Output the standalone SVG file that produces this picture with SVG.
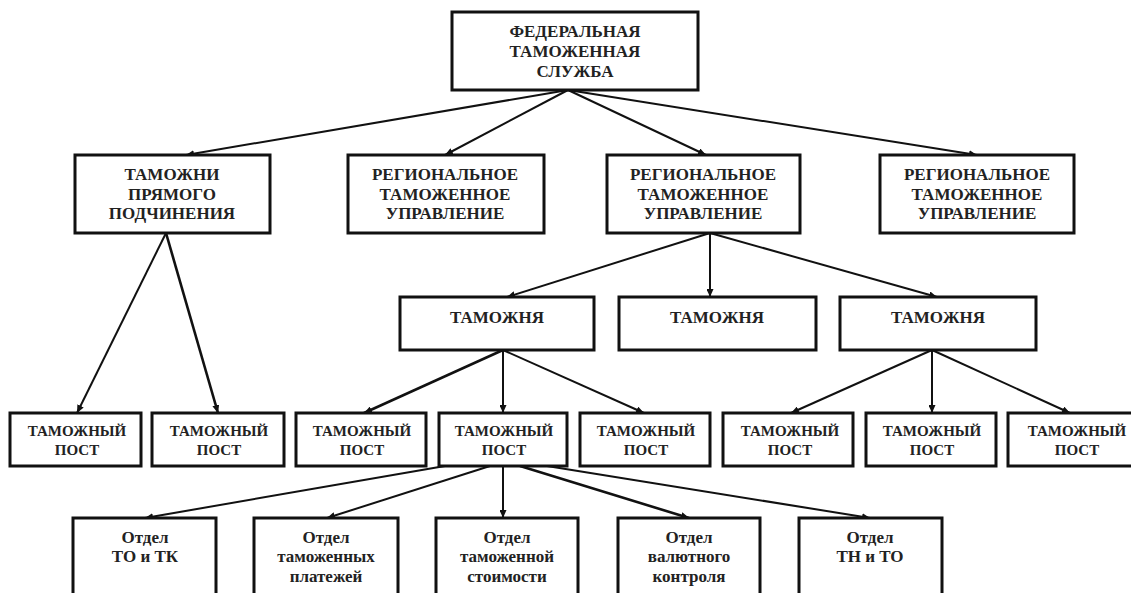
<svg xmlns="http://www.w3.org/2000/svg" width="1131" height="593" viewBox="0 0 1131 593">
<style>
.box{fill:#fff;stroke:#111;stroke-width:3}
.t{font-family:"Liberation Serif","Times New Roman",serif;font-weight:bold;font-size:17px;fill:#222;text-anchor:middle}
.s{font-size:15px}
.c line{stroke:#111;stroke-width:2;marker-end:url(#ah)}
</style>
<defs>
<marker id="ah" markerUnits="userSpaceOnUse" markerWidth="9" markerHeight="7" refX="8" refY="3.5" orient="auto">
<path d="M0,0 L8,3.5 L0,7 z" fill="#111"/>
</marker>
</defs>
<rect width="1131" height="593" fill="#fff"/>
<g class="c" id="connectors">
<line x1="568" y1="90" x2="186" y2="155"/>
<line x1="568" y1="90" x2="445" y2="155"/>
<line x1="568" y1="90" x2="706" y2="155"/>
<line x1="568" y1="90" x2="977" y2="155"/>
<line x1="166" y1="233" x2="77" y2="413"/>
<line x1="166" y1="233" x2="218" y2="413" style="stroke-width:2.6"/>
<line x1="710" y1="233" x2="507" y2="297"/>
<line x1="710" y1="233" x2="710" y2="297"/>
<line x1="710" y1="233" x2="937" y2="297"/>
<line x1="503" y1="350" x2="364" y2="413" style="stroke-width:2.6"/>
<line x1="503" y1="350" x2="503" y2="413"/>
<line x1="503" y1="350" x2="644" y2="413"/>
<line x1="932" y1="350" x2="791" y2="413"/>
<line x1="932" y1="350" x2="932" y2="413"/>
<line x1="932" y1="350" x2="1070" y2="413"/>
<line x1="445" y1="466" x2="145" y2="518"/>
<line x1="490" y1="466" x2="327" y2="518"/>
<line x1="503" y1="466" x2="503" y2="518"/>
<line x1="520" y1="466" x2="689" y2="518" style="stroke-width:2.6"/>
<line x1="547" y1="466" x2="870" y2="518"/>
</g>
<g id="fts"><rect class="box" x="452" y="12" width="246" height="78"/>
<text class="t" x="575" y="37">ФЕДЕРАЛЬНАЯ</text><text class="t" x="575" y="57">ТАМОЖЕННАЯ</text><text class="t" x="575" y="77">СЛУЖБА</text></g>
<g id="tpp"><rect class="box" x="75" y="155" width="195" height="78"/>
<text class="t" x="172" y="180">ТАМОЖНИ</text><text class="t" x="172" y="200">ПРЯМОГО</text><text class="t" x="172" y="219">ПОДЧИНЕНИЯ</text></g>
<g id="rtu1"><rect class="box" x="348" y="155" width="196" height="78"/>
<text class="t" x="445" y="180">РЕГИОНАЛЬНОЕ</text><text class="t" x="445" y="200">ТАМОЖЕННОЕ</text><text class="t" x="445" y="219">УПРАВЛЕНИЕ</text></g>
<g id="rtu2"><rect class="box" x="607" y="155" width="193" height="78"/>
<text class="t" x="703" y="180">РЕГИОНАЛЬНОЕ</text><text class="t" x="703" y="200">ТАМОЖЕННОЕ</text><text class="t" x="703" y="219">УПРАВЛЕНИЕ</text></g>
<g id="rtu3"><rect class="box" x="880" y="155" width="194" height="78"/>
<text class="t" x="977" y="180">РЕГИОНАЛЬНОЕ</text><text class="t" x="977" y="200">ТАМОЖЕННОЕ</text><text class="t" x="977" y="219">УПРАВЛЕНИЕ</text></g>
<g id="tam1"><rect class="box" x="400" y="297" width="194" height="53"/><text class="t" x="497" y="323">ТАМОЖНЯ</text></g>
<g id="tam2"><rect class="box" x="619" y="297" width="197" height="53"/><text class="t" x="717" y="323">ТАМОЖНЯ</text></g>
<g id="tam3"><rect class="box" x="840" y="297" width="196" height="53"/><text class="t" x="938" y="323">ТАМОЖНЯ</text></g>
<g id="post1"><rect class="box" x="10" y="413" width="131" height="53"/><text class="t s" x="77" y="436">ТАМОЖНЫЙ</text><text class="t s" x="77" y="455">ПОСТ</text></g>
<g id="post2"><rect class="box" x="152" y="413" width="132" height="53"/><text class="t s" x="219" y="436">ТАМОЖНЫЙ</text><text class="t s" x="219" y="455">ПОСТ</text></g>
<g id="post3"><rect class="box" x="296" y="413" width="130" height="53"/><text class="t s" x="362" y="436">ТАМОЖНЫЙ</text><text class="t s" x="362" y="455">ПОСТ</text></g>
<g id="post4"><rect class="box" x="439" y="413" width="128" height="53"/><text class="t s" x="504" y="436">ТАМОЖНЫЙ</text><text class="t s" x="504" y="455">ПОСТ</text></g>
<g id="post5"><rect class="box" x="580" y="413" width="130" height="53"/><text class="t s" x="646" y="436">ТАМОЖНЫЙ</text><text class="t s" x="646" y="455">ПОСТ</text></g>
<g id="post6"><rect class="box" x="723" y="413" width="130" height="53"/><text class="t s" x="790" y="436">ТАМОЖНЫЙ</text><text class="t s" x="790" y="455">ПОСТ</text></g>
<g id="post7"><rect class="box" x="866" y="413" width="130" height="53"/><text class="t s" x="932" y="436">ТАМОЖНЫЙ</text><text class="t s" x="932" y="455">ПОСТ</text></g>
<g id="post8"><rect class="box" x="1008" y="413" width="140" height="53"/><text class="t s" x="1077" y="436">ТАМОЖНЫЙ</text><text class="t s" x="1077" y="455">ПОСТ</text></g>
<g id="otd1"><rect class="box" x="73" y="518" width="143" height="85"/><text class="t" x="145" y="543">Отдел</text><text class="t" x="145" y="562">ТО и ТК</text></g>
<g id="otd2"><rect class="box" x="254" y="518" width="144" height="85"/><text class="t" x="326" y="543">Отдел</text><text class="t" x="326" y="562">таможенных</text><text class="t" x="326" y="582">платежей</text></g>
<g id="otd3"><rect class="box" x="436" y="518" width="142" height="85"/><text class="t" x="507" y="543">Отдел</text><text class="t" x="507" y="562">таможенной</text><text class="t" x="507" y="582">стоимости</text></g>
<g id="otd4"><rect class="box" x="618" y="518" width="142" height="85"/><text class="t" x="689" y="543">Отдел</text><text class="t" x="689" y="562">валютного</text><text class="t" x="689" y="582">контроля</text></g>
<g id="otd5"><rect class="box" x="799" y="518" width="143" height="85"/><text class="t" x="870" y="543">Отдел</text><text class="t" x="870" y="562">ТН и ТО</text></g>
</svg>
